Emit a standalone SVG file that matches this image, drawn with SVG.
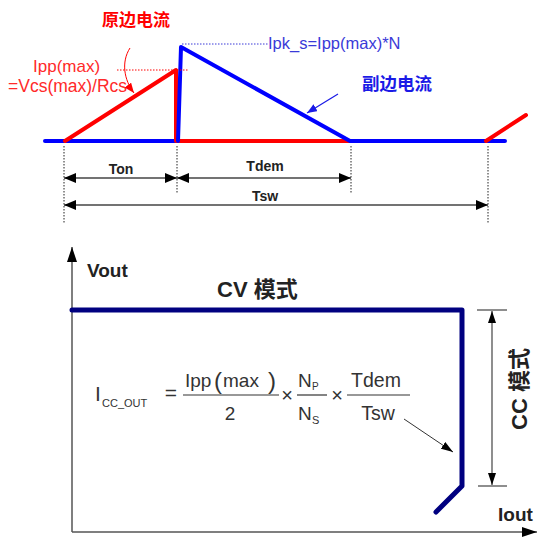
<svg xmlns="http://www.w3.org/2000/svg" width="541" height="537" viewBox="0 0 541 537">
<style>
.wave{fill:none;stroke-width:4;stroke-linecap:round;stroke-linejoin:round}
.dot{fill:none;stroke:#222;stroke-width:1;stroke-dasharray:1.5 1.5}
.dim{fill:none;stroke:#444;stroke-width:1.6}
.lbl{font-family:"Liberation Sans",Arial,sans-serif;font-weight:bold;fill:#222}
.f{font-family:"Liberation Sans",Arial,sans-serif;fill:#333}
.cjk{font-family:"Liberation Sans","Noto Sans CJK SC",sans-serif;font-weight:bold}
</style>
<defs>
<marker id="ah" viewBox="0 0 12 10" refX="12" refY="5" markerWidth="12" markerHeight="10" markerUnits="userSpaceOnUse" orient="auto-start-reverse"><path d="M0,0 L12,5 L0,10 z" fill="#000"/></marker>
<marker id="ax" viewBox="0 0 15 10" refX="15" refY="5" markerWidth="15" markerHeight="10" markerUnits="userSpaceOnUse" orient="auto-start-reverse"><path d="M0,0 L15,5 L0,10 z" fill="#000"/></marker>
<marker id="sm" viewBox="0 0 12 8" refX="12" refY="4" markerWidth="12" markerHeight="8" markerUnits="userSpaceOnUse" orient="auto-start-reverse"><path d="M0,0 L12,4 L0,8 z" fill="#000"/></marker>
<marker id="ar" viewBox="0 0 10 8" refX="10" refY="4" markerWidth="10" markerHeight="8" markerUnits="userSpaceOnUse" orient="auto"><path d="M0,0 L10,4 L0,8 z" fill="#f00"/></marker>
<marker id="ab" viewBox="0 0 10 8" refX="10" refY="4" markerWidth="10" markerHeight="8" markerUnits="userSpaceOnUse" orient="auto"><path d="M0,0 L10,4 L0,8 z" fill="#1a1ae6"/></marker>
</defs>

<g id="waveform">
<polyline class="wave" stroke="#0000ff" points="45,141 178,141"/>
<polyline class="wave" stroke="#ff0000" points="65,141 176,70 176,141 350,141"/>
<polyline class="wave" stroke="#0000ff" points="178,141 181,47 350,141 505,141"/>
<polyline class="wave" stroke="#ff0000" points="486,141 526,115"/>
<line x1="182" y1="44" x2="268" y2="44" stroke="#3a3ad8" stroke-width="1" stroke-dasharray="1.5 1.5"/>
<line x1="117" y1="70" x2="188" y2="70" stroke="#f00" stroke-width="1" stroke-dasharray="1.5 1.5"/>
</g>

<g id="label-primary">
<text class="cjk" x="136" y="26" font-size="17" fill="#ff0000" text-anchor="middle">原边电流</text>
<text x="33" y="72" font-size="17" fill="#ff2a2a" font-family="Liberation Sans,Arial,sans-serif">Ipp(max)</text>
<text x="8" y="92" font-size="17.5" fill="#ff2a2a" font-family="Liberation Sans,Arial,sans-serif">=Vcs(max)/Rcs</text>
</g>

<g id="label-secondary">
<text class="cjk" x="397" y="90" font-size="17.5" fill="#1a1ae6" text-anchor="middle">副边电流</text>
<text x="268" y="49" font-size="16.5" fill="#3a3ad8" font-family="Liberation Sans,Arial,sans-serif">Ipk_s=Ipp(max)*N</text>
</g>

<g id="timing">
<line class="dot" x1="64" y1="146" x2="64" y2="223"/>
<line class="dot" x1="177" y1="146" x2="177" y2="194"/>
<line class="dot" x1="351" y1="146" x2="351" y2="194"/>
<line class="dot" x1="488" y1="146" x2="488" y2="223"/>
<text class="lbl" x="121" y="174" font-size="14" text-anchor="middle">Ton</text>
<text class="lbl" x="265" y="171" font-size="14" text-anchor="middle">Tdem</text>
<text class="lbl" x="265" y="201" font-size="14" text-anchor="middle">Tsw</text>
</g>

<g id="axes">
<line x1="72" y1="532" x2="72" y2="247" stroke="#555" stroke-width="1.5" marker-end="url(#ax)"/>
<line x1="72" y1="532" x2="537" y2="532" stroke="#555" stroke-width="1.5" marker-end="url(#ax)"/>
<text class="lbl" x="87" y="277" font-size="19">Vout</text>
<text class="lbl" x="498" y="521" font-size="19">Iout</text>
</g>

<g id="curve">
<polyline points="72,310 462,310 462,486 436,512" fill="none" stroke="#000080" stroke-width="5" stroke-linecap="round" stroke-linejoin="round"/>
<text class="cjk" x="217" y="297" font-size="22" fill="#222">CV 模式</text>
</g>

<g id="cc-range">
<line x1="477" y1="310" x2="507" y2="310" stroke="#444" stroke-width="1.2"/>
<line x1="478" y1="486" x2="507" y2="486" stroke="#444" stroke-width="1.2"/>
<line x1="492" y1="311" x2="492" y2="485" stroke="#444" stroke-width="1.2" marker-start="url(#sm)" marker-end="url(#sm)"/>
<text class="cjk" transform="translate(527,430) rotate(-90)" font-size="22" fill="#222">CC 模式</text>
</g>

<g id="formula">
<text class="f" x="95" y="401" font-size="21">I</text>
<text class="f" x="102" y="407" font-size="11">CC_OUT</text>
<text class="f" x="171" y="400" font-size="21" text-anchor="middle">=</text>
<text class="f" x="185" y="387" font-size="19">Ipp</text>
<text class="f" x="214" y="389" font-size="24">(</text>
<text class="f" x="223" y="387" font-size="19">max</text>
<text class="f" x="268" y="389" font-size="24">)</text>
<line x1="183" y1="395" x2="279" y2="395" stroke="#333" stroke-width="1.2"/>
<text class="f" x="230" y="420" font-size="19" text-anchor="middle">2</text>
<text class="f" x="287" y="402" font-size="20" text-anchor="middle">×</text>
<text class="f" x="298" y="387" font-size="19">N</text>
<text class="f" x="312" y="390" font-size="10">P</text>
<line x1="297" y1="395" x2="327" y2="395" stroke="#333" stroke-width="1.2"/>
<text class="f" x="298" y="420" font-size="19">N</text>
<text class="f" x="312" y="424" font-size="11">S</text>
<text class="f" x="337" y="402" font-size="20" text-anchor="middle">×</text>
<text class="f" x="376" y="387" font-size="19.5" text-anchor="middle">Tdem</text>
<line x1="347" y1="395" x2="410" y2="395" stroke="#333" stroke-width="1.2"/>
<text class="f" x="378" y="420" font-size="19.5" text-anchor="middle">Tsw</text>
</g>

<g id="connectors">
<line class="dim" x1="64" y1="178" x2="177" y2="178" marker-start="url(#ah)" marker-end="url(#ah)"/>
<line class="dim" x1="177" y1="178" x2="351" y2="178" marker-start="url(#ah)" marker-end="url(#ah)"/>
<line class="dim" x1="64" y1="205" x2="488" y2="205" marker-start="url(#ah)" marker-end="url(#ah)"/>
<path d="M130,48 C121,62 124,80 134,93" fill="none" stroke="#f00" stroke-width="1" marker-end="url(#ar)"/>
<line x1="338" y1="94" x2="307" y2="113" stroke="#1a1ae6" stroke-width="1.2" marker-end="url(#ab)"/>
<line x1="404" y1="419" x2="453" y2="452" stroke="#333" stroke-width="1" marker-end="url(#sm)"/>
</g>
</svg>
